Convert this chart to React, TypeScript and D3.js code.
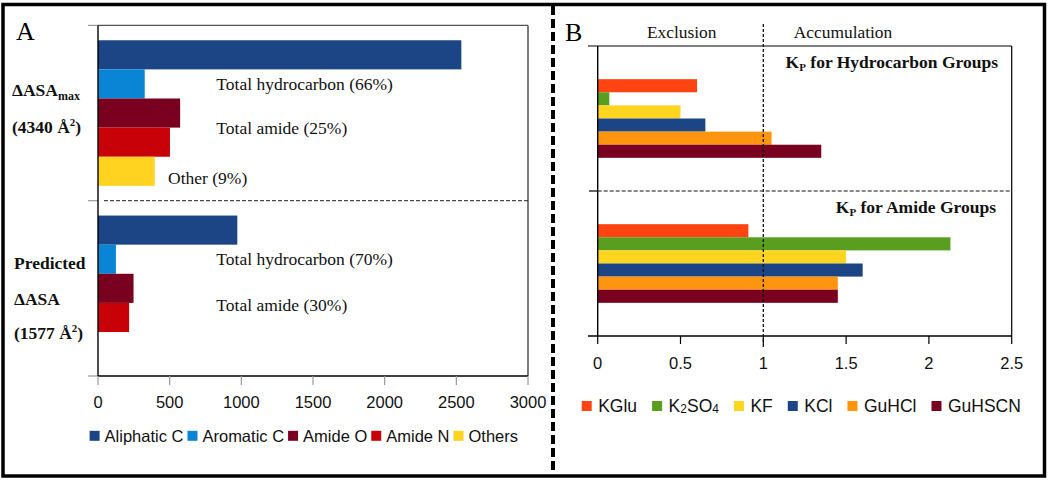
import React from "react";
import * as d3 from "d3";

// ---------- Data ----------
const leftGroups = ["max", "predicted"];
const leftSeries = ["Aliphatic C", "Aromatic C", "Amide O", "Amide N", "Others"];
const maxAsaValues = [2535, 326, 573, 502, 396];
const predictedAsaValues = [972, 125, 248, 217, 0];
const leftTicks = [0, 500, 1000, 1500, 2000, 2500, 3000];
const maxAnnotations = ["Total hydrocarbon (66%)", "Total amide (25%)", "Other (9%)"];
const predictedAnnotations = ["Total hydrocarbon (70%)", "Total amide (30%)"];

const rightGroups = ["hydrocarbon", "amide"];
const rightSeries = ["KGlu", "K2SO4", "KF", "KCl", "GuHCl", "GuHSCN"];
const hydrocarbonKp = [0.6, 0.07, 0.5, 0.65, 1.05, 1.35];
const amideKp = [0.91, 2.13, 1.5, 1.6, 1.45, 1.45];
const rightTicks = [0, 0.5, 1, 1.5, 2, 2.5];

// ---------- Styles ----------
const leftColors = ["#1c4585", "#0a84d4", "#7a0020", "#c80008", "#ffd320"];
const rightColors = ["#ff4412", "#5a9e20", "#ffd520", "#1c4585", "#ff950e", "#7a0020"];
const SERIF = "'Liberation Serif', 'Times New Roman', serif";
const SANS = "'Liberation Sans', Arial, sans-serif";

let _ctx: CanvasRenderingContext2D | null = null;
function textWidth(t: string, font: string): number {
  if (!_ctx) _ctx = document.createElement("canvas").getContext("2d");
  if (!_ctx) return t.length * 8;
  _ctx.font = font;
  return _ctx.measureText(t).width;
}

export default function App() {
  // ---- Left panel scales ----
  const xL = d3.scaleLinear().domain([0, 3000]).range([98, 528]);
  const yLG = d3.scaleBand<string>().domain(leftGroups).range([25.4, 376]).paddingInner(0).paddingOuter(0);
  const yLI = d3.scaleBand<string>().domain(leftSeries).range([0, yLG.bandwidth()]).paddingInner(0).paddingOuter(0.51);
  const leftData = [maxAsaValues, predictedAsaValues];

  // ---- Right panel scales ----
  const xR = d3.scaleLinear().domain([0, 2.5]).range([597.7, 1011.7]);
  const yRG = d3.scaleBand<string>().domain(rightGroups).range([46, 336]).paddingInner(0).paddingOuter(0);
  const yRI = d3.scaleBand<string>().domain(rightSeries).range([0, yRG.bandwidth()]).paddingInner(0).paddingOuter(2.53);
  const rightData = [hydrocarbonKp, amideKp];

  const g0 = yLG(leftGroups[0])!;
  const g1 = yLG(leftGroups[1])!;
  const mid = g1;
  const bottomL = yLG.range()[1];
  const topL = yLG.range()[0];

  const rTop = yRG.range()[0];
  const rBottom = yRG.range()[1];
  const rMid = yRG(rightGroups[1])!;

  // legend layouts
  const leftLegendFont = `16.5px ${SANS}`;
  let lx = 89.6;
  const leftLegend = leftSeries.map((s, i) => {
    const item = { label: s, color: leftColors[i], x: lx };
    lx += 15 + textWidth(s, leftLegendFont) + 4;
    return item;
  });
  const rightLegendFont = `17.5px ${SANS}`;
  let rx = 581.7;
  const rightLegend = rightSeries.map((s, i) => {
    const w = s === "K2SO4"
      ? textWidth("KSO", rightLegendFont) + 2 * textWidth("2", `12px ${SANS}`)
      : textWidth(s, rightLegendFont);
    const item = { label: s, color: rightColors[i], x: rx };
    rx += 16.5 + w + 15;
    return item;
  });

  const bandC = (g: string, s: string) => yLG(g)! + yLI(s)! + yLI.bandwidth() / 2;

  return (
    <svg width={1050} height={480} style={{ position: "fixed", left: 0, top: 0, background: "#fff" }}>
      <rect x={0} y={0} width={1050} height={480} fill="#fff" />
      {/* outer frame */}
      <rect x={3} y={4.5} width={1041.5} height={471.5} fill="none" stroke="#000" strokeWidth={3.5} />
      {/* divider */}
      <line x1={553} x2={553} y1={6} y2={474} stroke="#000" strokeWidth={4} strokeDasharray="9 4" />

      {/* ================= LEFT PANEL ================= */}
      <text x={16} y={40} fontFamily={SERIF} fontSize={26}>A</text>

      {/* bars */}
      {leftGroups.map((g, gi) =>
        leftSeries.map((s, si) => {
          const v = leftData[gi][si];
          if (!v) return null;
          return (
            <rect key={g + s} x={xL(0)} y={yLG(g)! + yLI(s)!} width={xL(v) - xL(0)} height={yLI.bandwidth()} fill={leftColors[si]} />
          );
        })
      )}

      {/* frame */}
      <line x1={88} x2={98} y1={topL} y2={topL} stroke="#999" strokeWidth={1.2} />
      <line x1={98} x2={528} y1={topL} y2={topL} stroke="#555" strokeWidth={1.2} />
      <line x1={528} x2={528} y1={topL} y2={bottomL} stroke="#222" strokeWidth={1.2} />
      <line x1={88} x2={98} y1={mid} y2={mid} stroke="#999" strokeWidth={1.2} />
      <line x1={104} x2={528} y1={mid} y2={mid} stroke="#222" strokeWidth={1} strokeDasharray="4 2" />
      <line x1={88} x2={98} y1={bottomL} y2={bottomL} stroke="#999" strokeWidth={1.2} />
      <line x1={98} x2={98} y1={topL} y2={bottomL} stroke="#000" strokeWidth={1.4} />
      <line x1={98} x2={528} y1={bottomL} y2={bottomL} stroke="#000" strokeWidth={1.4} />
      {leftTicks.map((t) => (
        <g key={t}>
          <line x1={xL(t)} x2={xL(t)} y1={bottomL} y2={bottomL + 9} stroke="#999" strokeWidth={1.2} />
          <text x={xL(t)} y={bottomL + 32} textAnchor="middle" fontFamily={SANS} fontSize={16.5} fill="#111">{t}</text>
        </g>
      ))}

      {/* annotations */}
      <g fontFamily={SERIF} fontSize={17.5} fill="#111">
        <text x={216.3} y={bandC(leftGroups[0], "Aromatic C") + 6}>{maxAnnotations[0]}</text>
        <text x={216.3} y={yLG(leftGroups[0])! + yLI("Amide N")! + 6.5}>{maxAnnotations[1]}</text>
        <text x={168} y={bandC(leftGroups[0], "Others") + 13}>{maxAnnotations[2]}</text>
        <text x={216.3} y={bandC(leftGroups[1], "Aromatic C") + 6}>{predictedAnnotations[0]}</text>
        <text x={216.3} y={yLG(leftGroups[1])! + yLI("Amide N")! + 8.5}>{predictedAnnotations[1]}</text>
      </g>

      {/* y labels */}
      <g fontFamily={SERIF} fontSize={17.5} fontWeight="bold" fill="#111">
        <text x={12} y={g0 + 71}>ΔASA<tspan fontSize={12} dy={4}>max</tspan></text>
        <text x={12} y={g0 + 108}>(4340 Å<tspan fontSize={11} dy={-7}>2</tspan><tspan dy={7}>)</tspan></text>
        <text x={14} y={g1 + 68}>Predicted</text>
        <text x={14} y={g1 + 104}>ΔASA</text>
        <text x={14} y={g1 + 138}>(1577 Å<tspan fontSize={11} dy={-7}>2</tspan><tspan dy={7}>)</tspan></text>
      </g>

      {/* legend */}
      {leftLegend.map((it) => (
        <g key={it.label}>
          <rect x={it.x} y={430.8} width={10} height={10} fill={it.color} />
          <text x={it.x + 15} y={441.5} fontFamily={SANS} fontSize={16.5} fill="#111">{it.label}</text>
        </g>
      ))}

      {/* ================= RIGHT PANEL ================= */}
      <text x={565} y={40.5} fontFamily={SERIF} fontSize={26}>B</text>
      <g fontFamily={SERIF} fontSize={17.4} fill="#111" textAnchor="middle">
        <text x={681.7} y={37.5}>Exclusion</text>
        <text x={843} y={37.5}>Accumulation</text>
      </g>

      {rightGroups.map((g, gi) =>
        rightSeries.map((s, si) => (
          <rect key={g + s} x={xR(0)} y={yRG(g)! + yRI(s)!} width={xR(rightData[gi][si]) - xR(0)} height={yRI.bandwidth()} fill={rightColors[si]} />
        ))
      )}

      {/* frame */}
      <line x1={588} x2={xR(2.5)} y1={rTop} y2={rTop} stroke="#000" strokeWidth={1.2} />
      <line x1={xR(2.5)} x2={xR(2.5)} y1={rTop} y2={rBottom} stroke="#000" strokeWidth={1.2} />
      <line x1={589} x2={xR(0)} y1={rMid} y2={rMid} stroke="#000" strokeWidth={1.2} />
      <line x1={xR(0)} x2={xR(2.5)} y1={rMid} y2={rMid} stroke="#111" strokeWidth={1} strokeDasharray="4 2" />
      <line x1={588} x2={xR(2.5)} y1={rBottom} y2={rBottom} stroke="#000" strokeWidth={1.4} />
      <line x1={xR(0)} x2={xR(0)} y1={rTop} y2={rBottom} stroke="#000" strokeWidth={1.4} />
      {rightTicks.map((t) => (
        <g key={t}>
          <line x1={xR(t)} x2={xR(t)} y1={rBottom} y2={rBottom + 8} stroke="#000" strokeWidth={1.2} />
          <text x={xR(t)} y={rBottom + 33} textAnchor="middle" fontFamily={SANS} fontSize={16.5} fill="#111">{t}</text>
        </g>
      ))}
      <line x1={xR(1)} x2={xR(1)} y1={24} y2={348} stroke="#111" strokeWidth={1.3} strokeDasharray="3 2" />

      <g fontFamily={SERIF} fontSize={17.5} fontWeight="bold" fill="#111" textAnchor="end">
        <text x={998} y={68.3}>K<tspan fontSize={11} dy={3}>P</tspan><tspan dy={-3}> for Hydrocarbon Groups</tspan></text>
        <text x={996} y={213.3}>K<tspan fontSize={11} dy={3}>P</tspan><tspan dy={-3}> for Amide Groups</tspan></text>
      </g>

      {/* legend */}
      {rightLegend.map((it) => (
        <g key={it.label}>
          <rect x={it.x} y={401} width={10} height={10} fill={it.color} />
          <text x={it.x + 16.5} y={412} fontFamily={SANS} fontSize={17.5} fill="#111">
            {it.label === "K2SO4" ? (
              <>K<tspan fontSize={12} dy={1}>2</tspan><tspan dy={-1}>SO</tspan><tspan fontSize={12} dy={1}>4</tspan></>
            ) : it.label}
          </text>
        </g>
      ))}
    </svg>
  );
}
